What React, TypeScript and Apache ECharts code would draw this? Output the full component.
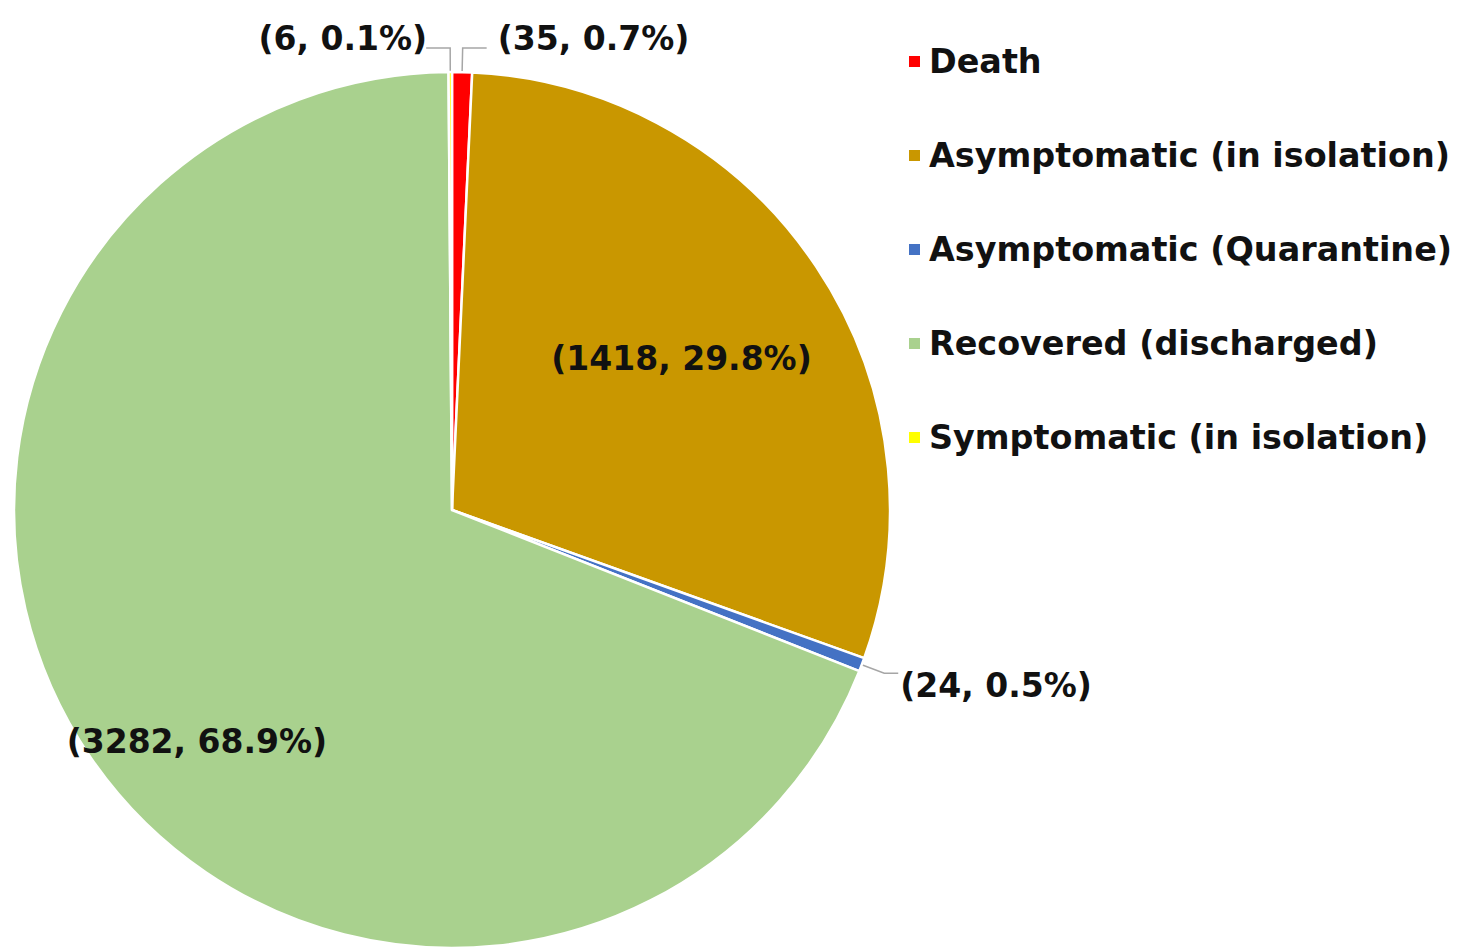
import React, { useEffect, useRef } from "react";
import * as echarts from "echarts";

const categories = [
  "Death",
  "Asymptomatic (in isolation)",
  "Asymptomatic (Quarantine)",
  "Recovered (discharged)",
  "Symptomatic (in isolation)",
];
const values = [35, 1418, 24, 3282, 6];
const colors = ["#FF0000", "#C99700", "#4472C4", "#A9D18E", "#FFFF00"];
const insideLabel = [false, true, false, true, false];
const labelDx = [5, 45, -4, -72, 7];
const labelDy = [-10, -28, 12, 106, -10];
const lineLen2 = [24, 0, 14, 0, 24];

const FONT = "'DejaVu Sans', sans-serif";

export default function App() {
  const ref = useRef<HTMLDivElement>(null);
  useEffect(() => {
    document.body.style.margin = "0";
    if (!ref.current) return;
    const chart = echarts.init(ref.current, undefined, { renderer: "svg" });
    chart.setOption({
      animation: false,
      backgroundColor: "#ffffff",
      legend: {
        orient: "vertical",
        left: 902,
        top: 40,
        itemWidth: 13,
        itemHeight: 13,
        itemGap: 61,
        icon: "rect",
        data: categories,
        textStyle: {
          fontFamily: FONT,
          fontWeight: "bold",
          fontSize: 33.4,
          lineHeight: 33,
          color: "#111111",
          padding: [0, 0, 0, 3],
        },
      },
      series: [
        {
          type: "pie",
          center: [452, 510],
          radius: 438,
          startAngle: 90,
          clockwise: true,
          percentPrecision: 1,
          avoidLabelOverlap: false,
          itemStyle: { borderColor: "#ffffff", borderWidth: 2.5 },
          label: {
            formatter: "({c}, {d}%)",
            fontFamily: FONT,
            fontWeight: "bold",
            fontSize: 33,
            color: "#111111",
            distanceToLabelLine: 6,
          },
          labelLine: {
            show: true,
            length: 24,
            length2: 14,
            lineStyle: { color: "#A6A6A6", width: 1.5 },
          },
          labelLayout: (params: any) => ({
            dx: labelDx[params.dataIndex],
            dy: labelDy[params.dataIndex],
          }),
          data: categories.map((name, i) => ({
            name,
            value: values[i],
            itemStyle: { color: colors[i] },
            label: { position: insideLabel[i] ? "inside" : "outside" },
            labelLine: { show: !insideLabel[i], length2: lineLen2[i] },
          })),
        },
      ],
    });
    return () => chart.dispose();
  }, []);
  return <div ref={ref} style={{ width: 1458, height: 948 }} />;
}
